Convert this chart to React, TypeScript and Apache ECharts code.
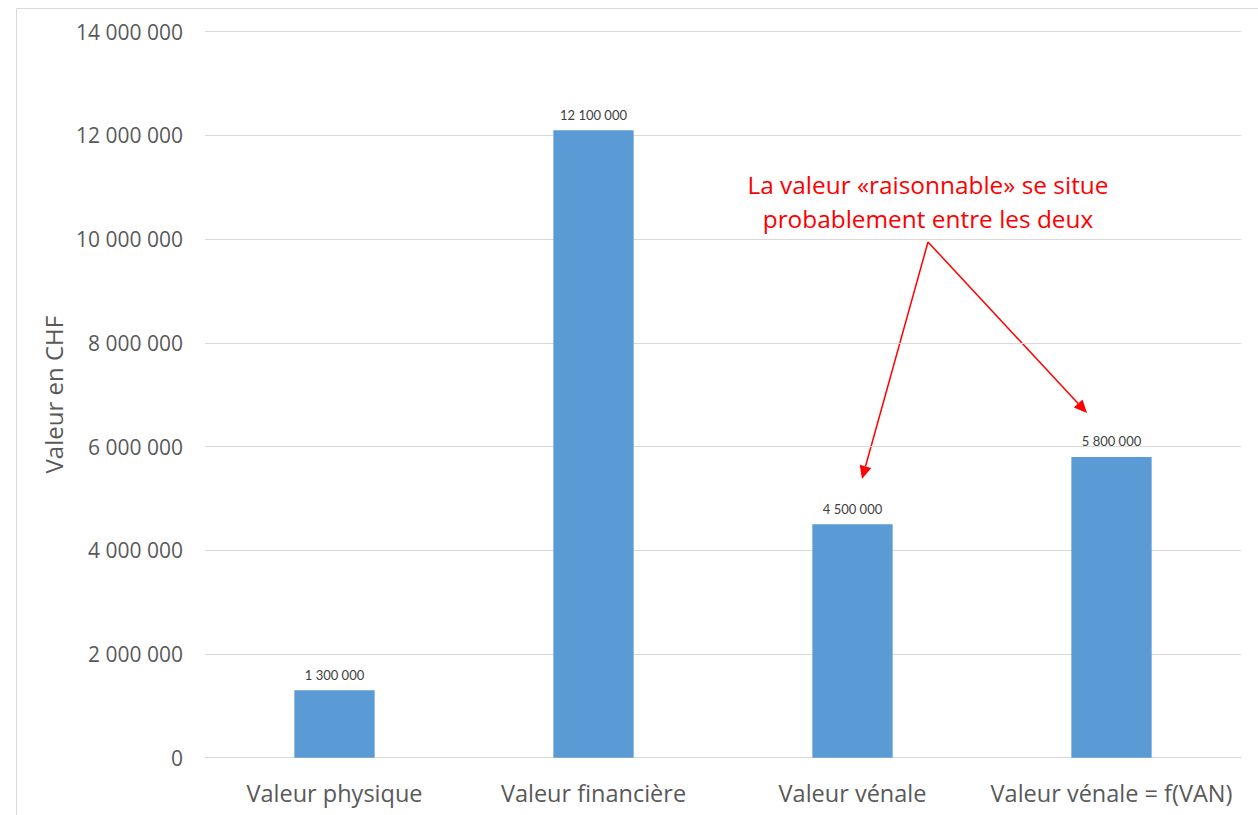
import React, { useEffect, useRef } from "react";
import * as echarts from "echarts";

const categories = ["Valeur physique", "Valeur financière", "Valeur vénale", "Valeur vénale = f(VAN)"];
const values = [1300000, 12100000, 4500000, 5800000];
const yTicks = { min: 0, max: 14000000, interval: 2000000 };
const annotationLines = ["La valeur «raisonnable» se situe", "probablement entre les deux"];

const FONT = "'Open Sans', Lato, sans-serif";
const SMALL_FONT = "Lato, 'Open Sans', sans-serif";

function fmt(v: number): string {
  return String(Math.round(v)).replace(/\B(?=(\d{3})+(?!\d))/g, " ");
}

function arrow(x1: number, y1: number, x2: number, y2: number, color: string) {
  const dx = x2 - x1, dy = y2 - y1;
  const len = Math.sqrt(dx * dx + dy * dy);
  const ux = dx / len, uy = dy / len;
  const headLen = 13, headW = 6;
  const bx = x2 - ux * headLen, by = y2 - uy * headLen;
  const px = -uy, py = ux;
  return [
    {
      type: "line",
      shape: { x1, y1, x2: bx, y2: by },
      style: { stroke: color, lineWidth: 1.5 },
      silent: true,
    },
    {
      type: "polygon",
      shape: {
        points: [
          [x2, y2],
          [bx + px * headW, by + py * headW],
          [bx - px * headW, by - py * headW],
        ],
      },
      style: { fill: color },
      silent: true,
    },
  ];
}

export default function App() {
  const ref = useRef<HTMLDivElement>(null);
  useEffect(() => {
    if (!ref.current) return;
    const chart = echarts.init(ref.current, null, { renderer: "svg" });
    const apexX = 928, apexY = 242;
    chart.setOption({
      animation: false,
      backgroundColor: "#ffffff",
      grid: { left: 205, right: 17, top: 31.7, bottom: 57.3, containLabel: false },
      xAxis: {
        type: "category",
        data: categories,
        axisLine: { show: true, lineStyle: { color: "#d9d9d9", width: 1 } },
        axisTick: { show: false },
        axisLabel: { color: "#595959", fontSize: 23.5, fontFamily: FONT, margin: 23, interval: 0 },
      },
      yAxis: {
        type: "value",
        min: yTicks.min,
        max: yTicks.max,
        interval: yTicks.interval,
        name: "Valeur en CHF",
        nameLocation: "middle",
        nameRotate: 90,
        nameGap: 137,
        nameTextStyle: { color: "#595959", fontSize: 24, fontFamily: FONT },
        axisLine: { show: false },
        axisTick: { show: false },
        splitLine: { lineStyle: { color: "#d9d9d9", width: 1 } },
        axisLabel: {
          color: "#595959",
          fontSize: 21,
          fontFamily: FONT,
          margin: 22,
          formatter: (v: number) => fmt(v),
        },
      },
      series: [
        {
          type: "bar",
          data: values,
          barWidth: "31%",
          itemStyle: { color: "#5b9bd5" },
          label: {
            show: true,
            position: "top",
            distance: 9,
            color: "#404040",
            fontSize: 13,
            fontFamily: SMALL_FONT,
            formatter: (p: any) => fmt(p.value),
          },
        },
      ],
      graphic: [
        {
          type: "rect",
          shape: { x: 16.5, y: 8.5, width: 1400, height: 1000 },
          style: { fill: "none", stroke: "#d9d9d9", lineWidth: 1 },
          silent: true,
          z: -10,
        },
        {
          type: "text",
          x: 928,
          y: 184,
          style: {
            text: annotationLines[0],
            fill: "#ff0000",
            fontSize: 24.4,
            fontFamily: FONT,
            align: "center",
            verticalAlign: "middle",
          },
        },
        {
          type: "text",
          x: 928,
          y: 218,
          style: {
            text: annotationLines[1],
            fill: "#ff0000",
            fontSize: 24.4,
            fontFamily: FONT,
            align: "center",
            verticalAlign: "middle",
          },
        },
        ...arrow(apexX, apexY, 862, 479, "#ff0000"),
        ...arrow(apexX, apexY, 1087, 413, "#ff0000"),
      ],
    });
    return () => chart.dispose();
  }, []);
  return (
    <div
      ref={ref}
      style={{ position: "fixed", left: 0, top: 0, width: 1258, height: 815 }}
    />
  );
}
